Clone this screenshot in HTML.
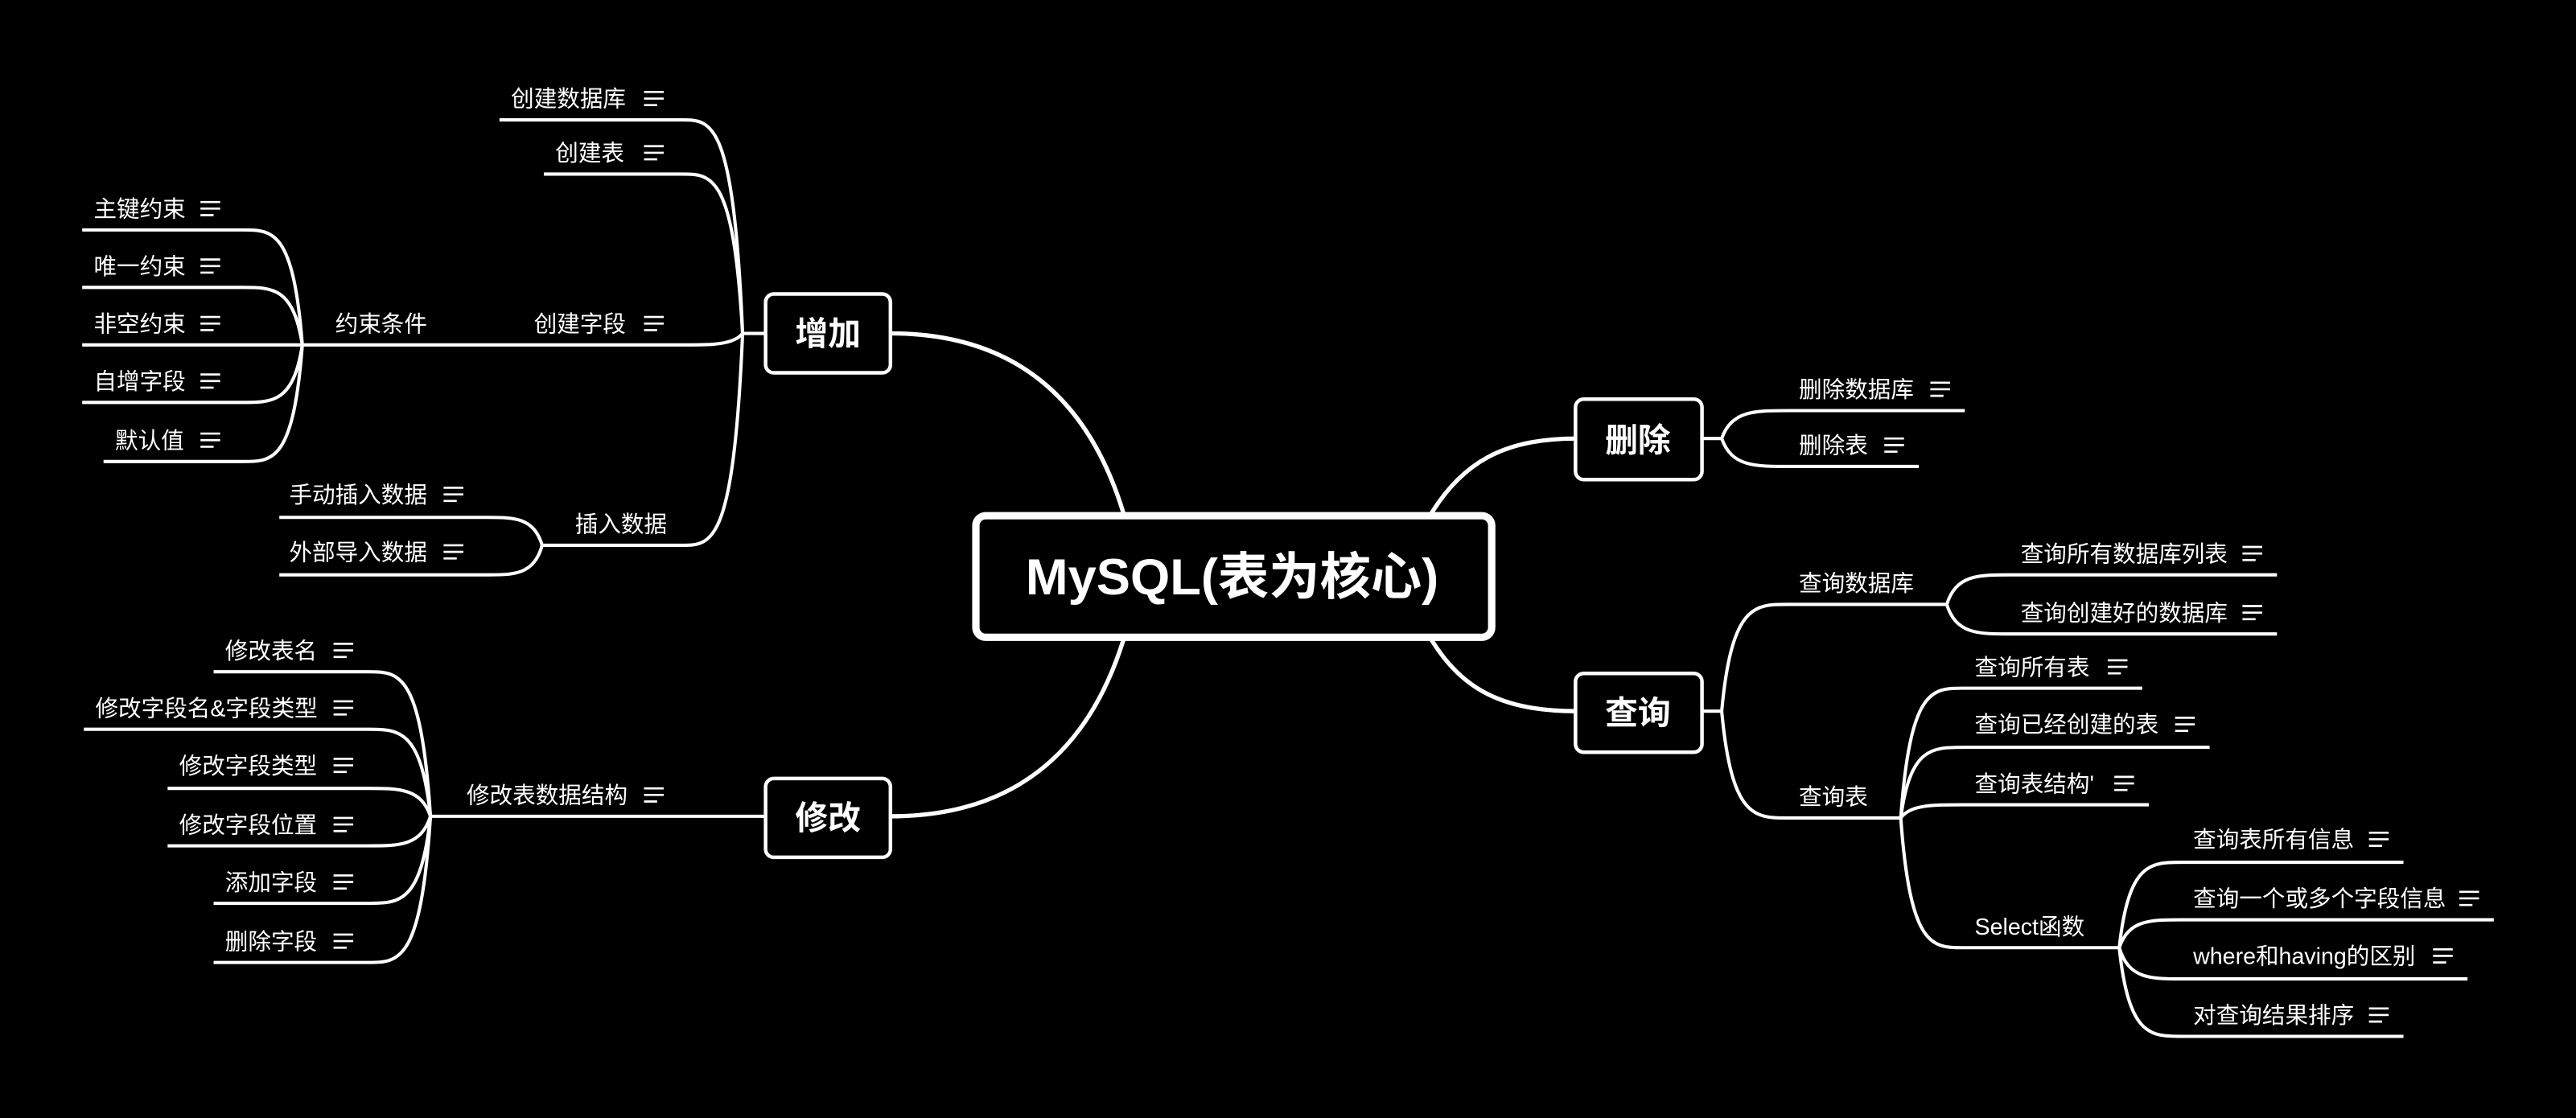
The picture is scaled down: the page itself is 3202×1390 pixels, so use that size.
<!DOCTYPE html>
<html><head><meta charset="utf-8"><style>
html,body{margin:0;padding:0;background:#000;}
svg{display:block;}
text{font-family:"Liberation Sans","Noto Sans CJK SC",sans-serif;fill:#fff;}
.t{font-size:14px;}
.b{font-weight:bold;font-size:20px;}
</style></head><body>
<svg width="3202" height="1390" viewBox="0 0 1568 680.7" xmlns="http://www.w3.org/2000/svg">
<defs>
<g id="ic"><path d="M0,-4 H12 M0,0 H12 M0,4 H8" stroke="#fff" stroke-width="1.3" fill="none"/></g>
</defs>
<rect width="1568" height="681" fill="#000"/>
<g fill="none" stroke="#fff" stroke-width="2.6">
<path d="M684,313 C662,240 615,203 542,203"/>
<path d="M684,389 C662,460 615,497 542,497"/>
<path d="M871,313 C890,282 915,267 959,267"/>
<path d="M871,389 C890,420 915,433 959,433"/>
</g>
<g fill="none" stroke="#fff" stroke-width="2">
<path d="M466,203 L452,203"/>
<path d="M452,203 C446.5,73 433.5,73 415,73 L304,73"/>
<path d="M452,203 C446.5,106 433.5,106 415,106 L331,106"/>
<path d="M452,203 C446.5,210 433.5,210 415,210 L184,210"/>
<path d="M452,203 C446.5,332 433.5,332 415,332 L330,332"/>
<path d="M184,210 C178.6,140 166,140 148,140 L50,140"/>
<path d="M184,210 C178.6,175 166,175 148,175 L50,175"/>
<path d="M184,210 L50,210"/>
<path d="M184,210 C178.6,245 166,245 148,245 L50,245"/>
<path d="M184,210 C178.6,281 166,281 148,281 L63,281"/>
<path d="M330,332 C324.9,315 313,315 296,315 L170,315"/>
<path d="M330,332 C324.9,350 313,350 296,350 L170,350"/>
<path d="M466,497 L262,497"/>
<path d="M262,497 C256.3,409 243,409 224,409 L130,409"/>
<path d="M262,497 C256.3,444 243,444 224,444 L51,444"/>
<path d="M262,497 C256.3,480 243,480 224,480 L102,480"/>
<path d="M262,497 C256.3,515 243,515 224,515 L102,515"/>
<path d="M262,497 C256.3,550 243,550 224,550 L130,550"/>
<path d="M262,497 C256.3,586 243,586 224,586 L130,586"/>
<path d="M1036,267 L1048,267"/>
<path d="M1048,267 C1054,250 1068,250 1088,250 L1196,250"/>
<path d="M1048,267 C1054,284 1068,284 1088,284 L1168,284"/>
<path d="M1036,433 L1048,433"/>
<path d="M1048,433 C1054,368 1068,368 1088,368 L1185,368"/>
<path d="M1048,433 C1054,498 1068,498 1088,498 L1157,498"/>
<path d="M1185,368 C1190.7,350 1204,350 1223,350 L1386,350"/>
<path d="M1185,368 C1190.7,386 1204,386 1223,386 L1386,386"/>
<path d="M1157,498 C1162.7,419 1176,419 1195,419 L1304,419"/>
<path d="M1157,498 C1162.7,455 1176,455 1195,455 L1345,455"/>
<path d="M1157,498 C1162.7,490 1176,490 1195,490 L1308,490"/>
<path d="M1157,498 C1162.7,577 1176,577 1195,577 L1290,577"/>
<path d="M1290,577 C1295.7,525 1309,525 1328,525 L1463,525"/>
<path d="M1290,577 C1295.7,560 1309,560 1328,560 L1518,560"/>
<path d="M1290,577 C1295.7,596 1309,596 1328,596 L1502,596"/>
<path d="M1290,577 C1295.7,631 1309,631 1328,631 L1463,631"/>
</g>
<rect x="594" y="314" width="314" height="74" rx="6" fill="#000" stroke="#fff" stroke-width="4.5"/>
<text x="750" y="362" text-anchor="middle" style="font-weight:bold;font-size:31px">MySQL(表为核心)</text>
<g fill="#000" stroke="#fff" stroke-width="2.2">
<rect x="466" y="179" width="76" height="48" rx="5"/>
<rect x="466" y="474" width="76" height="48" rx="5"/>
<rect x="959" y="243" width="77" height="49" rx="5"/>
<rect x="959" y="410" width="77" height="48" rx="5"/>
</g>
<text class="b" x="504" y="210" text-anchor="middle">增加</text>
<text class="b" x="504" y="505" text-anchor="middle">修改</text>
<text class="b" x="997" y="275" text-anchor="middle">删除</text>
<text class="b" x="997" y="441" text-anchor="middle">查询</text>
<g class="t">
<text class="t" x="311" y="65">创建数据库</text><use href="#ic" x="392" y="60"/>
<text class="t" x="338" y="98">创建表</text><use href="#ic" x="392" y="93"/>
<text class="t" x="325" y="202">创建字段</text><use href="#ic" x="392" y="197"/>
<text class="t" x="204" y="202">约束条件</text>
<text class="t" x="350" y="324">插入数据</text>
<text class="t" x="57" y="132">主键约束</text><use href="#ic" x="122" y="127"/>
<text class="t" x="57" y="167">唯一约束</text><use href="#ic" x="122" y="162"/>
<text class="t" x="57" y="202">非空约束</text><use href="#ic" x="122" y="197"/>
<text class="t" x="57" y="237">自增字段</text><use href="#ic" x="122" y="232"/>
<text class="t" x="70" y="273">默认值</text><use href="#ic" x="122" y="268"/>
<text class="t" x="176" y="306">手动插入数据</text><use href="#ic" x="270" y="301"/>
<text class="t" x="176" y="341">外部导入数据</text><use href="#ic" x="270" y="336"/>
<text class="t" x="284" y="489">修改表数据结构</text><use href="#ic" x="392" y="484"/>
<text class="t" x="137" y="401">修改表名</text><use href="#ic" x="203" y="396"/>
<text class="t" x="58" y="436">修改字段名&amp;字段类型</text><use href="#ic" x="203" y="431"/>
<text class="t" x="109" y="471">修改字段类型</text><use href="#ic" x="203" y="466"/>
<text class="t" x="109" y="507">修改字段位置</text><use href="#ic" x="203" y="502"/>
<text class="t" x="137" y="542">添加字段</text><use href="#ic" x="203" y="537"/>
<text class="t" x="137" y="578">删除字段</text><use href="#ic" x="203" y="573"/>
<text class="t" x="1095" y="242">删除数据库</text><use href="#ic" x="1175" y="237"/>
<text class="t" x="1095" y="276">删除表</text><use href="#ic" x="1147" y="271"/>
<text class="t" x="1095" y="360">查询数据库</text>
<text class="t" x="1095" y="490">查询表</text>
<text class="t" x="1230" y="342">查询所有数据库列表</text><use href="#ic" x="1365" y="337"/>
<text class="t" x="1230" y="378">查询创建好的数据库</text><use href="#ic" x="1365" y="373"/>
<text class="t" x="1202" y="411">查询所有表</text><use href="#ic" x="1283" y="406"/>
<text class="t" x="1202" y="446">查询已经创建的表</text><use href="#ic" x="1324" y="441"/>
<text class="t" x="1202" y="482">查询表结构'</text><use href="#ic" x="1287" y="477"/>
<text class="t" x="1202" y="569">Select函数</text>
<text class="t" x="1335" y="516">查询表所有信息</text><use href="#ic" x="1442" y="511"/>
<text class="t" x="1335" y="552">查询一个或多个字段信息</text><use href="#ic" x="1497" y="547"/>
<text class="t" x="1335" y="587">where和having的区别</text><use href="#ic" x="1481" y="582"/>
<text class="t" x="1335" y="623">对查询结果排序</text><use href="#ic" x="1442" y="618"/>
</g>
</svg>
</body></html>
